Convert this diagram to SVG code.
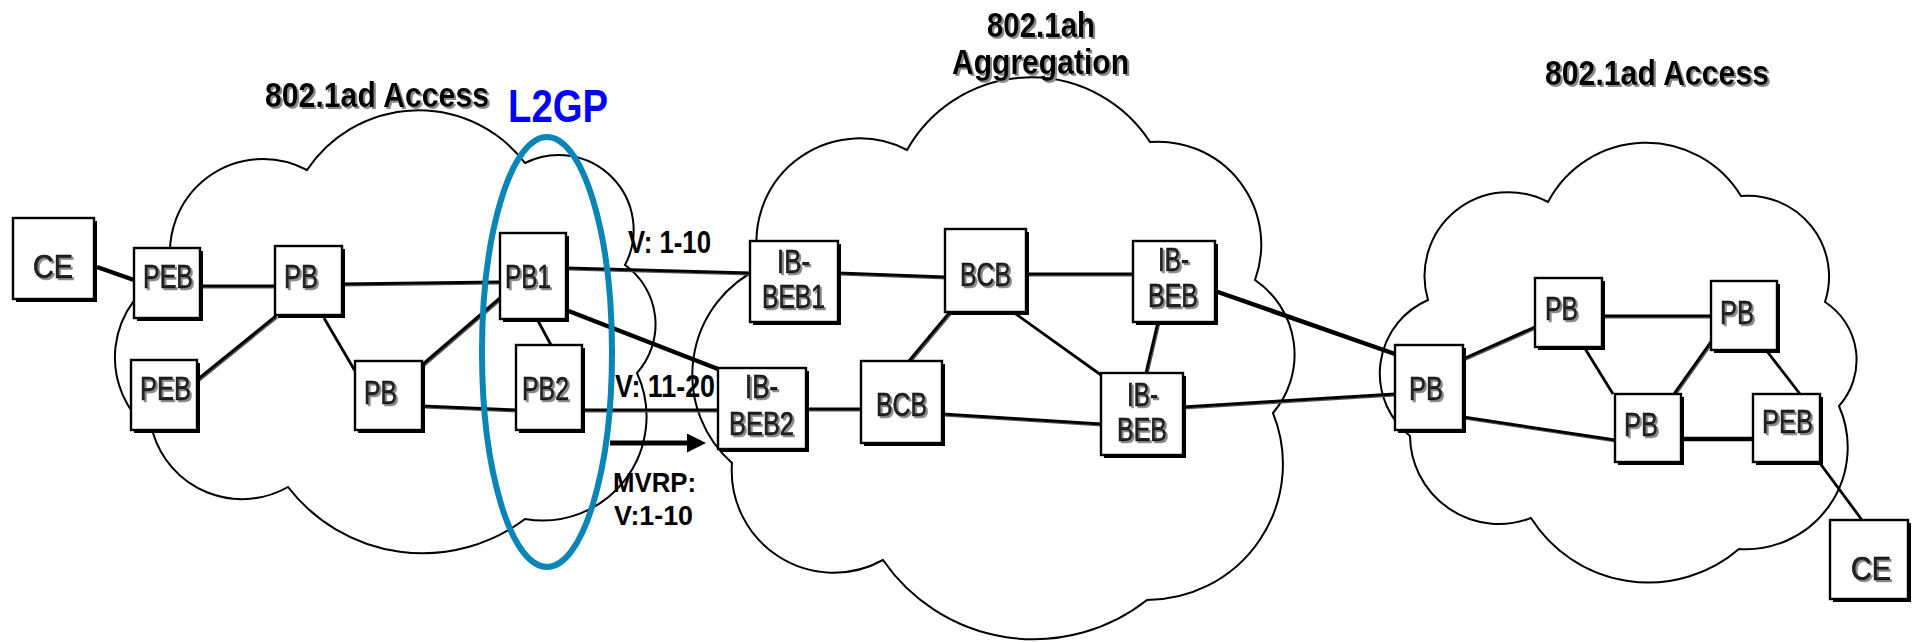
<svg xmlns="http://www.w3.org/2000/svg" width="1914" height="642" viewBox="0 0 1914 642">
<style>
.cloud{fill:none;stroke:#000;stroke-width:2}
.ln{stroke:#000;stroke-width:3;fill:none}
.thin{stroke:#000;stroke-width:2.8;fill:none}
.thick{stroke:#000;stroke-width:4.5;fill:none}
.box{fill:#fff;stroke:#000;stroke-width:2.4}
.sh{fill:#000}
.lbl{font-family:"Liberation Sans",Arial,sans-serif;font-size:34px;fill:#222;stroke:#000;stroke-width:0.7}
.hd{font-family:"Liberation Sans",Arial,sans-serif;font-size:35px;font-weight:bold;fill:#000}
.vl{font-family:"Liberation Sans",Arial,sans-serif;font-size:32px;font-weight:bold;fill:#000}
.vs{font-family:"Liberation Sans",Arial,sans-serif;font-size:28px;font-weight:bold;fill:#000}
</style>
<defs>
<filter id="ts" x="-10%" y="-10%" width="130%" height="140%">
<feOffset in="SourceAlpha" dx="2" dy="2" result="o"/>
<feFlood flood-color="#8a8a8a"/>
<feComposite in2="o" operator="in" result="s"/>
<feMerge><feMergeNode in="s"/><feMergeNode in="SourceGraphic"/></feMerge>
</filter>
<filter id="lsh" x="-5%" y="-20%" width="110%" height="140%">
<feOffset in="SourceAlpha" dx="1.4" dy="1.4" result="o"/>
<feFlood flood-color="#555"/>
<feComposite in2="o" operator="in" result="s"/>
<feMerge><feMergeNode in="s"/><feMergeNode in="SourceGraphic"/></feMerge>
</filter>
<marker id="ah" markerUnits="userSpaceOnUse" markerWidth="20" markerHeight="20" refX="2" refY="9.5" orient="auto">
<path d="M0,0 L19,9.5 L0,19 z" fill="#000"/>
</marker>
</defs>
<rect width="1914" height="642" fill="#fff"/>

<g id="clouds">
<path id="cloud-left" class="cloud" d="M172,271 A93,93 0 0 1 307,170 A134,134 0 0 1 525,163 A75,75 0 0 1 625,265 A73,73 0 0 1 637,373 A104,104 0 0 1 525,519 A170,170 0 0 1 288,487 A93,93 0 0 1 153,433 A94,94 0 0 1 172,271 Z"/>
<path id="cloud-mid" class="cloud" d="M760,268 A103,103 0 0 1 907,150 A142,142 0 0 1 1150,142 A103,103 0 0 1 1255,280 A90,90 0 0 1 1273,413 A136,136 0 0 1 1147,600 A183,183 0 0 1 883,560 A102,102 0 0 1 732,463 A118,118 0 0 1 760,268 Z"/>
<path id="cloud-right" class="cloud" d="M1428,300 A84,84 0 0 1 1548,202 A111,111 0 0 1 1741,196 A81,81 0 0 1 1825,302 A69,69 0 0 1 1839,406 A102,102 0 0 1 1739,549 A139,139 0 0 1 1531,518 A89,89 0 0 1 1410,436 A80,80 0 0 1 1428,300 Z"/>
</g>

<g id="connectors">
<g filter="url(#lsh)">
<line class="ln" x1="200" y1="286" x2="275" y2="286"/>
<line class="ln" x1="342" y1="284" x2="500" y2="282"/>
<line class="ln" x1="197" y1="380" x2="276" y2="316"/>
<line class="ln" x1="422" y1="365" x2="500" y2="298"/>
<line class="ln" x1="422" y1="406" x2="516" y2="410"/>
<line class="ln" x1="566" y1="268" x2="750" y2="273"/>
<line class="ln" x1="582" y1="410" x2="718" y2="410"/>
<line class="ln" x1="838" y1="273" x2="945" y2="277"/>
<line class="ln" x1="1026" y1="274" x2="1133" y2="274"/>
<line class="ln" x1="950" y1="312" x2="909" y2="361"/>
<line class="ln" x1="1158" y1="322" x2="1146" y2="373"/>
<line class="ln" x1="806" y1="409" x2="861" y2="409"/>
<line class="ln" x1="942" y1="414" x2="1101" y2="424"/>
<line class="ln" x1="1183" y1="407" x2="1395" y2="394"/>
<line class="ln" x1="1463" y1="359" x2="1535" y2="327"/>
<line class="ln" x1="1463" y1="417" x2="1615" y2="440"/>
<line class="ln" x1="1602" y1="316" x2="1711" y2="316"/>
<line class="ln" x1="1713" y1="339" x2="1674" y2="394"/>
</g>
<line class="thin" x1="324" y1="318" x2="355" y2="371"/>
<line class="thin" x1="537" y1="319" x2="551" y2="345"/>
<line class="thin" x1="1013" y1="312" x2="1101" y2="375"/>
<line class="thin" x1="1584" y1="347" x2="1613" y2="394"/>
<line class="thin" x1="1766" y1="350" x2="1800" y2="394"/>
<line class="thin" x1="1819" y1="462" x2="1862" y2="520"/>
<line class="thick" x1="97" y1="267" x2="134" y2="280"/>
<line class="thick" x1="566" y1="310" x2="718" y2="369"/>
<line class="thick" x1="1215" y1="291" x2="1395" y2="354"/>
<line class="thick" x1="1681" y1="439" x2="1753" y2="439"/>
<line id="mvrp-arrow" x1="610" y1="443" x2="689" y2="443" stroke="#000" stroke-width="5" marker-end="url(#ah)"/>
</g>

<g id="nodes">
<g id="ce-left"><rect class="sh" x="16" y="221" width="81" height="81"/><rect class="box" x="13" y="218" width="81" height="81"/><text class="lbl" filter="url(#ts)" x="33" y="278" textLength="40" lengthAdjust="spacingAndGlyphs">CE</text></g>
<g id="peb-top"><rect class="sh" x="137" y="251" width="66" height="70"/><rect class="box" x="134" y="248" width="66" height="70"/><text class="lbl" filter="url(#ts)" x="143" y="288" textLength="50" lengthAdjust="spacingAndGlyphs">PEB</text></g>
<g id="pb-top"><rect class="sh" x="278" y="249" width="67" height="69"/><rect class="box" x="275" y="246" width="67" height="69"/><text class="lbl" filter="url(#ts)" x="284" y="288" textLength="34" lengthAdjust="spacingAndGlyphs">PB</text></g>
<g id="pb1"><rect class="sh" x="503" y="236" width="66" height="86"/><rect class="box" x="500" y="233" width="66" height="86"/><text class="lbl" filter="url(#ts)" x="505" y="288" textLength="46" lengthAdjust="spacingAndGlyphs">PB1</text></g>
<g id="pb2"><rect class="sh" x="519" y="348" width="66" height="85"/><rect class="box" x="516" y="345" width="66" height="85"/><text class="lbl" filter="url(#ts)" x="522" y="400" textLength="47" lengthAdjust="spacingAndGlyphs">PB2</text></g>
<g id="peb-bottom"><rect class="sh" x="134" y="363" width="66" height="70"/><rect class="box" x="131" y="360" width="66" height="70"/><text class="lbl" filter="url(#ts)" x="140" y="400" textLength="51" lengthAdjust="spacingAndGlyphs">PEB</text></g>
<g id="pb-mid"><rect class="sh" x="358" y="364" width="67" height="69"/><rect class="box" x="355" y="361" width="67" height="69"/><text class="lbl" filter="url(#ts)" x="364" y="404" textLength="33" lengthAdjust="spacingAndGlyphs">PB</text></g>
<g id="ib-beb1"><rect class="sh" x="753" y="244" width="88" height="81"/><rect class="box" x="750" y="241" width="88" height="81"/><text class="lbl" filter="url(#ts)" x="777" y="273" textLength="33" lengthAdjust="spacingAndGlyphs">IB-</text><text class="lbl" filter="url(#ts)" x="762" y="308" textLength="63" lengthAdjust="spacingAndGlyphs">BEB1</text></g>
<g id="bcb-top"><rect class="sh" x="948" y="232" width="81" height="83"/><rect class="box" x="945" y="229" width="81" height="83"/><text class="lbl" filter="url(#ts)" x="960" y="286" textLength="51" lengthAdjust="spacingAndGlyphs">BCB</text></g>
<g id="ib-beb-top"><rect class="sh" x="1136" y="244" width="82" height="81"/><rect class="box" x="1133" y="241" width="82" height="81"/><text class="lbl" filter="url(#ts)" x="1158" y="271" textLength="31" lengthAdjust="spacingAndGlyphs">IB-</text><text class="lbl" filter="url(#ts)" x="1148" y="307" textLength="50" lengthAdjust="spacingAndGlyphs">BEB</text></g>
<g id="ib-beb2"><rect class="sh" x="721" y="371" width="88" height="81"/><rect class="box" x="718" y="368" width="88" height="81"/><text class="lbl" filter="url(#ts)" x="745" y="398" textLength="33" lengthAdjust="spacingAndGlyphs">IB-</text><text class="lbl" filter="url(#ts)" x="729" y="435" textLength="65" lengthAdjust="spacingAndGlyphs">BEB2</text></g>
<g id="bcb-bottom"><rect class="sh" x="864" y="364" width="81" height="82"/><rect class="box" x="861" y="361" width="81" height="82"/><text class="lbl" filter="url(#ts)" x="876" y="416" textLength="51" lengthAdjust="spacingAndGlyphs">BCB</text></g>
<g id="ib-beb-bottom"><rect class="sh" x="1104" y="376" width="82" height="82"/><rect class="box" x="1101" y="373" width="82" height="82"/><text class="lbl" filter="url(#ts)" x="1127" y="406" textLength="31" lengthAdjust="spacingAndGlyphs">IB-</text><text class="lbl" filter="url(#ts)" x="1117" y="441" textLength="50" lengthAdjust="spacingAndGlyphs">BEB</text></g>
<g id="pb-right-left"><rect class="sh" x="1398" y="348" width="68" height="85"/><rect class="box" x="1395" y="345" width="68" height="85"/><text class="lbl" filter="url(#ts)" x="1409" y="400" textLength="34" lengthAdjust="spacingAndGlyphs">PB</text></g>
<g id="pb-right-top"><rect class="sh" x="1538" y="281" width="67" height="69"/><rect class="box" x="1535" y="278" width="67" height="69"/><text class="lbl" filter="url(#ts)" x="1545" y="320" textLength="33" lengthAdjust="spacingAndGlyphs">PB</text></g>
<g id="pb-right-topright"><rect class="sh" x="1714" y="284" width="66" height="69"/><rect class="box" x="1711" y="281" width="66" height="69"/><text class="lbl" filter="url(#ts)" x="1720" y="324" textLength="34" lengthAdjust="spacingAndGlyphs">PB</text></g>
<g id="pb-right-bottom"><rect class="sh" x="1618" y="397" width="66" height="68"/><rect class="box" x="1615" y="394" width="66" height="68"/><text class="lbl" filter="url(#ts)" x="1624" y="436" textLength="34" lengthAdjust="spacingAndGlyphs">PB</text></g>
<g id="peb-right"><rect class="sh" x="1756" y="397" width="67" height="68"/><rect class="box" x="1753" y="394" width="67" height="68"/><text class="lbl" filter="url(#ts)" x="1762" y="433" textLength="51" lengthAdjust="spacingAndGlyphs">PEB</text></g>
<g id="ce-right"><rect class="sh" x="1833" y="523" width="78" height="79"/><rect class="box" x="1830" y="520" width="78" height="79"/><text class="lbl" filter="url(#ts)" x="1851" y="580" textLength="40" lengthAdjust="spacingAndGlyphs">CE</text></g>
</g>

<g id="l2gp">
<ellipse cx="547" cy="352" rx="65" ry="215" fill="none" stroke="#0b84b6" stroke-width="6"/>
<text x="508" y="122" font-family="'Liberation Sans',Arial,sans-serif" font-size="47" font-weight="bold" fill="#0000ff" textLength="100" lengthAdjust="spacingAndGlyphs">L2GP</text>
</g>

<g id="labels">
<text class="hd" filter="url(#ts)" x="265" y="107" textLength="224" lengthAdjust="spacingAndGlyphs">802.1ad Access</text>
<text class="hd" filter="url(#ts)" x="987" y="37" textLength="108" lengthAdjust="spacingAndGlyphs">802.1ah</text>
<text class="hd" filter="url(#ts)" x="952" y="74" textLength="177" lengthAdjust="spacingAndGlyphs">Aggregation</text>
<text class="hd" filter="url(#ts)" x="1545" y="85" textLength="224" lengthAdjust="spacingAndGlyphs">802.1ad Access</text>
<text class="vl" x="628" y="253" textLength="83" lengthAdjust="spacingAndGlyphs">V: 1-10</text>
<text class="vl" x="615" y="397" textLength="100" lengthAdjust="spacingAndGlyphs">V: 11-20</text>
<text class="vs" x="613" y="492" textLength="83" lengthAdjust="spacingAndGlyphs">MVRP:</text>
<text class="vs" x="614" y="525" textLength="79" lengthAdjust="spacingAndGlyphs">V:1-10</text>
</g>
</svg>
